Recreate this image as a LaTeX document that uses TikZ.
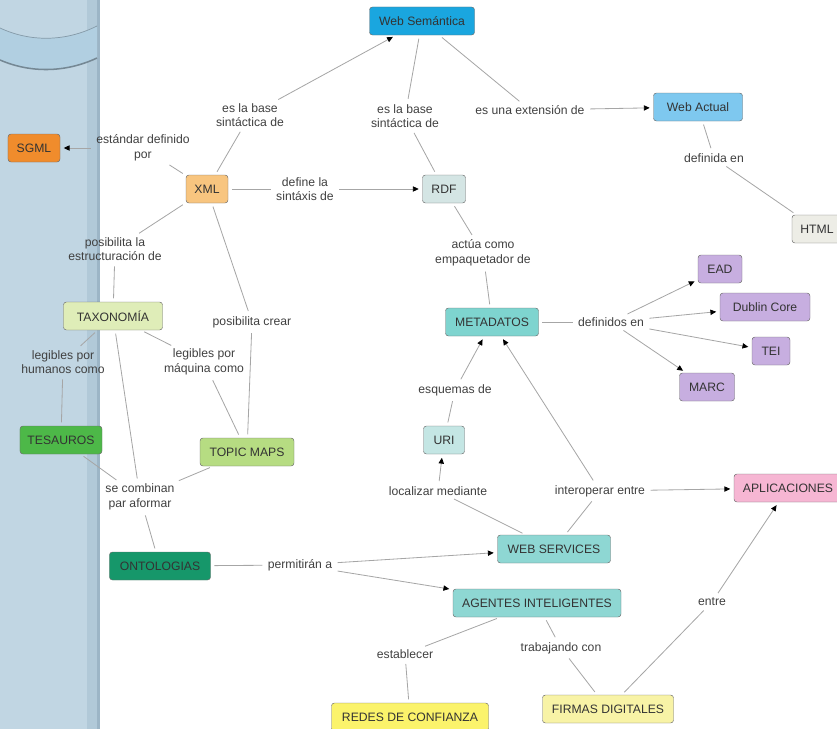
\documentclass[tikz,border=0pt]{standalone}
\usepackage{fontspec}
\setmainfont{Liberation Sans}
\usetikzlibrary{arrows.meta}

\definecolor{panelblue}{HTML}{C1D6E3}
\definecolor{panelstrip}{HTML}{B1C9D8}
\definecolor{paneledge}{HTML}{9CB5C6}
\definecolor{bandblue}{HTML}{B1CFE1}
\definecolor{wsemblue}{HTML}{1AA6DF}
\definecolor{wactblue}{HTML}{7EC8EF}
\definecolor{htmlgrey}{HTML}{EDEDE6}
\definecolor{sgmlorange}{HTML}{F08C2C}
\definecolor{xmlorange}{HTML}{F8C57F}
\definecolor{rdfgrey}{HTML}{D4E5E4}
\definecolor{taxgreen}{HTML}{DFEDB8}
\definecolor{tesgreen}{HTML}{4DB848}
\definecolor{topgreen}{HTML}{B6DC82}
\definecolor{metateal}{HTML}{7ED4CF}
\definecolor{stdpurple}{HTML}{C7AEE0}
\definecolor{uriteal}{HTML}{C4E6E4}
\definecolor{aplpink}{HTML}{F6B6D3}
\definecolor{servteal}{HTML}{8ED7D3}
\definecolor{ontgreen}{HTML}{16976A}
\definecolor{redyellow}{HTML}{FBF36B}
\definecolor{firyellow}{HTML}{F8F3A6}

\begin{document}
\begin{tikzpicture}[x=0.03cm, y=-0.03cm,
		concept/.style={draw=gray!85!black, rounded corners=2.5pt, minimum height=0.84cm, inner sep=2pt, font=\fontsize{10.4}{12.5}\selectfont, text=black!80},
		phrase/.style={inner sep=1.5pt, align=center, font=\fontsize{10.4}{12.5}\selectfont, text=black!75},
		link/.style={draw=gray!70, line width=0.7pt, shorten <=3pt, shorten >=3pt},
		arr/.style={link, -{Triangle[length=5pt, width=4.5pt, color=black]}}]
	\useasboundingbox (0,0) rectangle (837,729);
	\clip (0,0) rectangle (837,729);

	\fill[panelblue] (0,0) rectangle (98,729);
	\fill[panelstrip] (87,0) rectangle (98,729);
	\fill[paneledge] (97,0) rectangle (100,729);
	\fill[bandblue] (0,28) .. controls (30,42) and (65,42) .. (97,26) -- (97,58) .. controls (65,73) and (30,73) .. (0,60) -- cycle;
	\draw[paneledge!85!black, line width=0.6pt] (0,28) .. controls (30,42) and (65,42) .. (97,26);
	\draw[paneledge!75!black, line width=1.3pt] (0,60) .. controls (30,73) and (65,73) .. (97,58);

	\node[concept, fill=wsemblue, minimum width=3.15cm] (wsem) at (422,21) {Web Semántica};
	\node[concept, fill=wactblue, minimum width=2.67cm] (wact) at (698,107) {Web Actual};
	\node[concept, fill=htmlgrey, minimum width=1.5cm] (html) at (817,229) {HTML};
	\node[concept, fill=sgmlorange, minimum width=1.56cm] (sgml) at (34,148) {SGML};
	\node[concept, fill=xmlorange, minimum width=1.26cm] (xml) at (207,189) {XML};
	\node[concept, fill=rdfgrey, minimum width=1.29cm] (rdf) at (444,189) {RDF};
	\node[concept, fill=taxgreen, minimum width=2.97cm] (tax) at (113,316) {TAXONOMÍA};
	\node[concept, fill=tesgreen, minimum width=2.46cm] (tes) at (61,440) {TESAUROS};
	\node[concept, fill=topgreen, minimum width=2.82cm] (top) at (247,452) {TOPIC MAPS};
	\node[concept, fill=metateal, minimum width=2.79cm] (meta) at (492,322) {METADATOS};
	\node[concept, fill=stdpurple, minimum width=1.32cm] (ead) at (720,269) {EAD};
	\node[concept, fill=stdpurple, minimum width=2.7cm] (dc) at (765,307) {Dublin Core};
	\node[concept, fill=stdpurple, minimum width=1.14cm] (tei) at (771,351) {TEI};
	\node[concept, fill=stdpurple, minimum width=1.65cm] (marc) at (707,387) {MARC};
	\node[concept, fill=uriteal, minimum width=1.23cm] (uri) at (444,440) {URI};
	\node[concept, fill=aplpink, minimum width=3.24cm] (apl) at (788,488) {APLICACIONES};
	\node[concept, fill=servteal, minimum width=3.39cm] (serv) at (554,549) {WEB SERVICES};
	\node[concept, fill=ontgreen, minimum width=3.03cm] (ont) at (160,566) {ONTOLOGIAS};
	\node[concept, fill=servteal, minimum width=5.04cm] (agent) at (537,603) {AGENTES INTELIGENTES};
	\node[concept, fill=redyellow, minimum width=4.71cm] (redes) at (410,717) {REDES DE CONFIANZA};
	\node[concept, fill=firyellow, minimum width=3.93cm] (firmas) at (608,709) {FIRMAS DIGITALES};

	\node[phrase] (pxmlws) at (250,115) {es la base\\sintáctica de};
	\node[phrase] (prdfws) at (405,116) {es la base\\sintáctica de};
	\node[phrase] (pwsact) at (530,110) {es una extensión de};
	\node[phrase] (pacthtml) at (714,158) {definida en};
	\node[phrase] (pxmlsgml) at (143,148) {estándar definido\\por};
	\node[phrase] (pxmlrdf) at (305,189) {define la\\sintáxis de};
	\node[phrase] (pxmltax) at (115,249) {posibilita la\\estructuración de};
	\node[phrase] (pxmltop) at (252,322) {posibilita crear};
	\node[phrase] (prdfmeta) at (483,253) {actúa como\\empaquetador de};
	\node[phrase] (pmetadef) at (611,322) {definidos en};
	\node[phrase] (ptaxtes) at (63,362) {legibles por\\humanos como};
	\node[phrase] (ptaxtop) at (204,362) {legibles por\\máquina como};
	\node[phrase] (purimeta) at (455,390) {esquemas de};
	\node[phrase] (pservuri) at (438,491) {localizar mediante};
	\node[phrase] (pservint) at (600,491) {interoperar entre};
	\node[phrase] (pcomb) at (140,497) {se combinan\\par aformar};
	\node[phrase] (pontperm) at (300,565) {permitirán a};
	\node[phrase] (pagest) at (405,654) {establecer};
	\node[phrase] (pagtrab) at (561,648) {trabajando con};
	\node[phrase] (pfirent) at (712,602) {entre};

	\draw[link] (xml) -- (pxmlws);
	\draw[arr] (pxmlws) -- (wsem);
	\draw[link] (wsem) -- (prdfws);
	\draw[link] (prdfws) -- (rdf);
	\draw[link] (wsem) -- (pwsact);
	\draw[arr] (pwsact) -- (wact);
	\draw[link] (wact) -- (pacthtml);
	\draw[link] (pacthtml) -- (html);
	\draw[link] (xml) -- (pxmlsgml);
	\draw[arr] (pxmlsgml) -- (sgml);
	\draw[link] (xml) -- (pxmlrdf);
	\draw[arr] (pxmlrdf) -- (rdf);
	\draw[link] (xml) -- (pxmltax);
	\draw[link] (pxmltax) -- (tax);
	\draw[link] (xml) -- (pxmltop);
	\draw[link] (pxmltop) -- (top);
	\draw[link] (rdf) -- (prdfmeta);
	\draw[link] (prdfmeta) -- (meta);
	\draw[link] (meta) -- (pmetadef);
	\foreach \std in {ead, dc, tei, marc}
		\draw[arr] (pmetadef) -- (\std);
	\draw[link] (tax) -- (ptaxtes);
	\draw[link] (ptaxtes) -- (tes);
	\draw[link] (tax) -- (ptaxtop);
	\draw[link] (ptaxtop) -- (top);
	\foreach \src in {tax, tes, top}
		\draw[link] (\src) -- (pcomb);
	\draw[link] (pcomb) -- (ont);
	\draw[link] (uri) -- (purimeta);
	\draw[arr] (purimeta) -- (meta);
	\draw[link] (serv) -- (pservuri);
	\draw[arr] (pservuri) -- (uri);
	\draw[link] (serv) -- (pservint);
	\draw[arr] (pservint) -- (meta);
	\draw[arr] (pservint) -- (apl);
	\draw[link] (ont) -- (pontperm);
	\draw[arr] (pontperm) -- (serv);
	\draw[arr] (pontperm) -- (agent);
	\draw[link] (agent) -- (pagest);
	\draw[link] (pagest) -- (redes);
	\draw[link] (agent) -- (pagtrab);
	\draw[link] (pagtrab) -- (firmas);
	\draw[link] (firmas) -- (pfirent);
	\draw[arr] (pfirent) -- (apl);
\end{tikzpicture}
\end{document}
